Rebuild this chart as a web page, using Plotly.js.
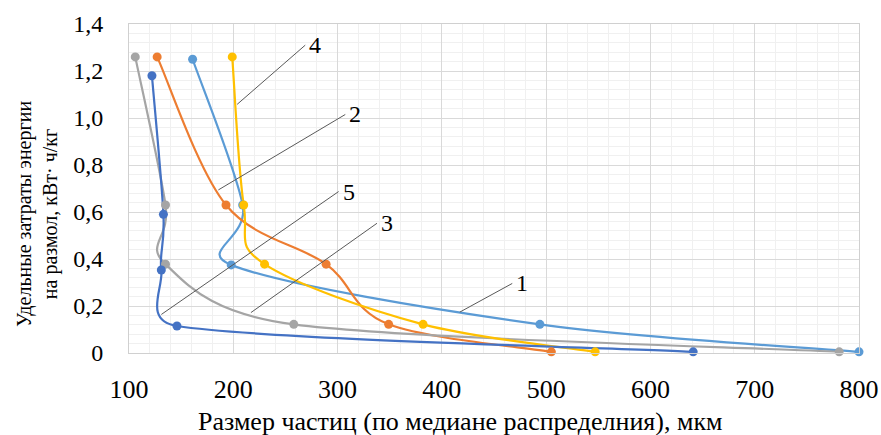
<!DOCTYPE html>
<html>
<head>
<meta charset="utf-8">
<script src="https://cdn.plot.ly/plotly-3.0.1.min.js"></script>
<style>html,body{margin:0;padding:0;background:#fff;}#chart{width:881px;height:435px;}</style>
</head>
<body>
<div id="chart"></div>
<script>
// Series data (particle size, мкм ; specific energy, кВт·ч/кг)
const x1 = [161, 209, 198, 494, 800];
const y1 = [1.25, 0.63, 0.375, 0.122, 0.005];
const x2 = [127, 193, 289, 349, 505];
const y2 = [1.26, 0.63, 0.378, 0.122, 0.005];
const x3 = [106, 135, 135, 258, 781];
const y3 = [1.26, 0.63, 0.378, 0.122, 0.005];
const x4 = [199, 210, 230, 382, 547];
const y4 = [1.26, 0.63, 0.378, 0.122, 0.005];
const x5 = [122, 133, 131, 146, 641];
const y5 = [1.18, 0.59, 0.353, 0.115, 0.005];

const seriesNames = ['1', '2', '3', '4', '5'];
const yTickVals = [0, 0.2, 0.4, 0.6, 0.8, 1.0, 1.2, 1.4];
const yTickText = ['0', '0,2', '0,4', '0,6', '0,8', '1,0', '1,2', '1,4'];
const xTickVals = [100, 200, 300, 400, 500, 600, 700, 800];
const xTitle = 'Размер частиц (по медиане распределния), мкм';
const yTitle = 'Удельные затраты энергии<br>на размол, кВт· ч/кг';

const colors = ['#5B9BD5', '#ED7D31', '#A5A5A5', '#FFC000', '#4472C4'];
const xs = [x1, x2, x3, x4, x5];
const ys = [y1, y2, y3, y4, y5];

const W = 881, H = 435;
const M = {l: 129, r: 22, t: 24, b: 82};
const X_RANGE = [100, 800], Y_RANGE = [0, 1.4];
const sx = (W - M.l - M.r) / (X_RANGE[1] - X_RANGE[0]);
const sy = (H - M.t - M.b) / (Y_RANGE[1] - Y_RANGE[0]);

// Excel-like smoothed line: Catmull-Rom tangents (1/6), control arm capped relative to segment length
function smoothPath(xv, yv) {
  const n = xv.length;
  const P = i => { const k = Math.max(0, Math.min(n - 1, i)); return [xv[k], yv[k]]; };
  const plen = (a, b) => Math.hypot((a[0] - b[0]) * sx, (a[1] - b[1]) * sy);
  const cap = (v, seg) => {
    const l = Math.hypot(v[0] * sx, v[1] * sy), lim = 0.6 * seg;
    return l > lim && l > 0 ? [v[0] * lim / l, v[1] * lim / l] : v;
  };
  let d = 'M ' + xv[0] + ',' + yv[0];
  for (let i = 0; i < n - 1; i++) {
    const p0 = P(i - 1), p1 = P(i), p2 = P(i + 1), p3 = P(i + 2);
    const seg = plen(p1, p2);
    const v1 = cap([(p2[0] - p0[0]) / 6, (p2[1] - p0[1]) / 6], seg);
    const v2 = cap([(p3[0] - p1[0]) / 6, (p3[1] - p1[1]) / 6], seg);
    const c1 = [p1[0] + v1[0], p1[1] + v1[1]];
    const c2 = [p2[0] - v2[0], p2[1] - v2[1]];
    d += ' C ' + c1[0] + ',' + c1[1] + ' ' + c2[0] + ',' + c2[1] + ' ' + p2[0] + ',' + p2[1];
  }
  return d;
}

const traces = xs.map((xv, i) => ({
  x: xv, y: ys[i], name: seriesNames[i], type: 'scatter', mode: 'markers',
  marker: {color: colors[i], size: 9},
  showlegend: false, cliponaxis: false
}));

// leader lines: [text, label x, label y, curve x, curve y]
const leaders = [
  ['4', 269, 1.31, 203.7, 1.058],
  ['2', 307.4, 1.015, 185.7, 0.694],
  ['5', 301, 0.687, 131, 0.164],
  ['3', 337.8, 0.552, 216.9, 0.172],
  ['1', 467.5, 0.296, 417.2, 0.174]
];

const FAM = 'Liberation Serif';
const f = (s) => ({family: FAM, size: s, color: '#000'});

const curveShapes = xs.map((xv, i) => ({
  type: 'path', xref: 'x', yref: 'y', path: smoothPath(xv, ys[i]),
  line: {color: colors[i], width: 2.2}, layer: 'between'
}));
const leaderShapes = leaders.map(l => ({
  type: 'line', xref: 'x', yref: 'y', x0: l[1], y0: l[2], x1: l[3], y1: l[4],
  line: {color: '#595959', width: 1}, layer: 'above'
}));

const layout = {
  width: W, height: H,
  margin: M,
  paper_bgcolor: '#fff', plot_bgcolor: '#fff',
  font: f(20),
  xaxis: {
    range: X_RANGE, tickvals: xTickVals, ticks: '',
    showgrid: true, gridcolor: '#D9D9D9', gridwidth: 1,
    minor: {dtick: 20, showgrid: true, gridcolor: '#F0F0F0', gridwidth: 1},
    showline: true, linecolor: '#D0D0D0', linewidth: 1, mirror: true,
    zeroline: false, ticklabelstandoff: 13,
    tickfont: f(26)
  },
  yaxis: {
    range: Y_RANGE, tickvals: yTickVals, ticktext: yTickText, ticks: '',
    showgrid: true, gridcolor: '#D9D9D9', gridwidth: 1,
    minor: {dtick: 0.04, showgrid: true, gridcolor: '#F0F0F0', gridwidth: 1},
    showline: true, linecolor: '#D0D0D0', linewidth: 1, mirror: true,
    zeroline: false, ticklabelstandoff: 20,
    tickfont: f(24)
  },
  shapes: curveShapes.concat(leaderShapes),
  annotations: leaders.map(l => ({
    x: l[1], y: l[2], xref: 'x', yref: 'y', text: l[0], showarrow: false,
    xanchor: 'left', yanchor: 'middle', xshift: 2, yshift: 0,
    font: f(24)
  })).concat([
    {text: xTitle, xref: 'paper', yref: 'paper', x: (460 - M.l) / (W - M.l - M.r), y: -(421 - (H - M.b)) / (H - M.t - M.b),
     xanchor: 'center', yanchor: 'middle', showarrow: false, font: f(26)},
    {text: yTitle, xref: 'paper', yref: 'paper', x: (37 - M.l) / (W - M.l - M.r), y: ((H - M.b) - 214) / (H - M.t - M.b),
     xanchor: 'center', yanchor: 'middle', textangle: -90, showarrow: false, font: f(20)}
  ])
};

Plotly.newPlot('chart', traces, layout, {displayModeBar: false, staticPlot: true});
</script>
</body>
</html>
